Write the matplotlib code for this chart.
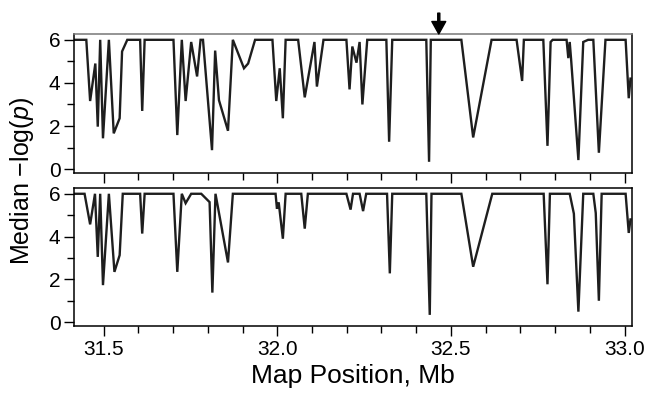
import matplotlib
matplotlib.use('Agg')
import matplotlib.pyplot as plt
from matplotlib.ticker import MultipleLocator

plt.rcParams['font.family'] = ['Liberation Sans', 'DejaVu Sans']
plt.rcParams['mathtext.fontset'] = 'custom'
plt.rcParams['mathtext.rm'] = 'Liberation Sans'
plt.rcParams['mathtext.it'] = 'Liberation Sans:italic'

# map position (Mb) and median -log(p)
x_top = [31.416, 31.450, 31.461, 31.476, 31.483, 31.490, 31.498, 31.515, 31.529, 31.546,
         31.553, 31.568, 31.605, 31.611, 31.618, 31.701, 31.712, 31.725, 31.736, 31.752,
         31.769, 31.779, 31.786, 31.812, 31.821, 31.832, 31.858, 31.872, 31.904, 31.916,
         31.936, 31.986, 31.997, 32.007, 32.016, 32.024, 32.060, 32.079, 32.107, 32.114,
         32.133, 32.199, 32.208, 32.216, 32.228, 32.237, 32.245, 32.259, 32.314, 32.322,
         32.331, 32.429, 32.437, 32.442, 32.530, 32.564, 32.617, 32.689, 32.705, 32.710,
         32.766, 32.778, 32.787, 32.793, 32.833, 32.838, 32.842, 32.846, 32.867, 32.881,
         32.895, 32.910, 32.926, 32.945, 33.003, 33.012, 33.017]
y_top = [6, 6, 3.16, 4.9, 1.97, 6, 1.43, 6, 1.66, 2.36,
         5.46, 6, 6, 2.7, 6, 6, 1.58, 6, 3.16, 5.9,
         4.3, 6, 6, 0.88, 5.5, 3.2, 1.78, 6, 4.68, 4.9,
         6, 6, 3.16, 4.68, 2.36, 6, 6, 3.33, 5.9, 3.83,
         6, 6, 3.7, 5.69, 4.94, 5.9, 3.0, 6, 6, 1.27,
         6, 6, 0.34, 6, 6, 1.47, 6, 6, 4.09, 6,
         6, 1.08, 5.9, 6, 6, 5.15, 5.9, 5.1, 0.42, 5.9,
         6, 6, 0.76, 6, 6, 3.29, 4.2]

x_bot = [31.416, 31.445, 31.461, 31.475, 31.483, 31.490, 31.498, 31.515, 31.531, 31.546,
         31.555, 31.605, 31.611, 31.618, 31.701, 31.712, 31.725, 31.736, 31.752, 31.781,
         31.805, 31.813, 31.822, 31.858, 31.872, 31.995, 31.999, 32.004, 32.016, 32.024,
         32.069, 32.079, 32.088, 32.199, 32.211, 32.218, 32.237, 32.247, 32.256, 32.316,
         32.324, 32.331, 32.429, 32.439, 32.444, 32.530, 32.564, 32.619, 32.767, 32.778,
         32.785, 32.842, 32.854, 32.867, 32.881, 32.910, 32.917, 32.926, 32.934, 33.003,
         33.012, 33.017]
y_bot = [6, 6, 4.57, 6, 3.05, 6, 1.73, 6, 2.35, 3.13,
         6, 6, 4.14, 6, 6, 2.35, 6, 5.56, 6, 6,
         5.61, 1.38, 6, 2.79, 6, 6, 5.3, 5.6, 3.9, 6,
         6, 4.37, 6, 6, 5.26, 6, 6, 5.19, 6, 6,
         2.28, 6, 6, 0.34, 6, 6, 2.59, 6, 6, 1.77,
         6, 6, 5.07, 0.49, 6, 6, 5.1, 1.0, 6, 6,
         4.17, 4.8]

arrow_x = 32.465

fig = plt.figure(figsize=(6.45, 4.0), dpi=100)
ax1 = fig.add_axes([0.1155, 0.5675, 0.8636, 0.3475])
ax2 = fig.add_axes([0.1155, 0.185, 0.8636, 0.345])

for ax, xs, ys in [(ax1, x_top, y_top), (ax2, x_bot, y_bot)]:
    ax.plot(xs, ys, color='#1e1e1e', lw=1.7, solid_joinstyle='miter')
    ax.set_xlim(31.416, 33.02)
    ax.set_ylim(-0.18, 6.27)
    ax.yaxis.set_major_locator(MultipleLocator(2))
    ax.yaxis.set_minor_locator(MultipleLocator(1))
    ax.xaxis.set_major_locator(MultipleLocator(0.5))
    ax.xaxis.set_minor_locator(MultipleLocator(0.1))
    ax.tick_params(which='major', direction='out', length=7, width=1.0, labelsize=15, pad=3)
    ax.tick_params(which='minor', direction='out', length=5, width=1.0)
    for s in ax.spines.values():
        s.set_linewidth(1.1)

ax1.tick_params(axis='x', labelbottom=False)
ax1.spines['top'].set_color('#777777')
ax2.xaxis.set_major_formatter(plt.FormatStrFormatter('%.1f'))
ax2.set_xlabel('Map Position, Mb', fontsize=19, labelpad=4)

fig.text(0.034, 0.547, 'Median \u2212log($\\mathit{p}$)', rotation=90,
         ha='center', va='center', fontsize=18)

ax1.annotate('', xy=(arrow_x, 1.0), xycoords=('data', 'axes fraction'),
             xytext=(arrow_x, 1.15), textcoords=('data', 'axes fraction'),
             arrowprops=dict(facecolor='black', edgecolor='black', width=1.5,
                             headwidth=10, headlength=9, shrink=0),
             annotation_clip=False)

fig.savefig('out.png', dpi=100)
